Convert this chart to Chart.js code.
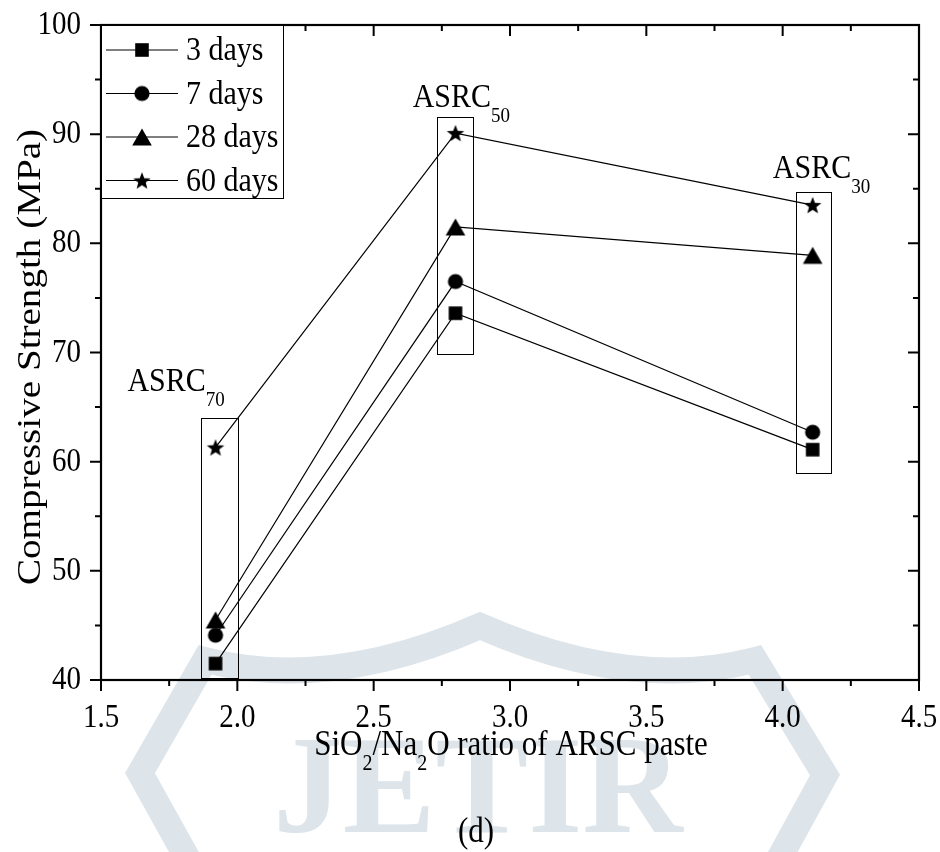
<!DOCTYPE html>
<html lang="en">
<head>
  <meta charset="UTF-8" />
  <title>Compressive Strength vs SiO2/Na2O ratio</title>
  <script src="https://cdn.jsdelivr.net/npm/chart.js"></script>
  <style>
    body {
      margin: 0;
      background: #ffffff;
    }
    canvas {
      display: block;
    }
  </style>
</head>
<body>
  <canvas id="strengthChart" width="940" height="852"></canvas>

  <script>
    // SiO2/Na2O ratio of each paste
    const xRatio = [1.92, 2.80, 4.11];

    // compressive strength (MPa) per curing age
    const strength3d = [41.5, 73.6, 61.1];
    const strength7d = [44.1, 76.5, 62.7];
    const strength28d = [45.5, 81.5, 78.9];
    const strength60d = [61.3, 90.1, 83.5];
    const seriesLabels = ['3 days', '7 days', '28 days', '60 days'];

    // tick labels
    const xTicks = [1.5, 2.0, 2.5, 3.0, 3.5, 4.0, 4.5];
    const yTicks = [40, 50, 60, 70, 80, 90, 100];

    // mix groups: frame around each group and its name
    const groupNames = ['ASRC', 'ASRC', 'ASRC'];
    const groupSubs = ['70', '50', '30'];
    const boxLeft = [1.865, 2.732, 4.049];
    const boxRight = [2.0, 2.864, 4.177];
    const boxTop = [64.0, 91.6, 84.7];
    const boxBottom = [40.2, 69.9, 59.0];
    const labelX = [1.597, 2.643, 3.964];
    const labelY = [66.5, 92.5, 86.0];

    const SERIF = '"Liberation Serif", "Times New Roman", serif';
    const SY = 1.15;              // text is a bit taller than wide
    const WATERMARK = '#dde4ea';

    // filled marker glyphs
    function makeMarker(kind) {
      const c = document.createElement('canvas');
      c.width = 26;
      c.height = 26;
      const g = c.getContext('2d');
      g.fillStyle = '#000';
      g.beginPath();
      if (kind === 'square') {
        g.rect(13 - 6.8, 13 - 6.8, 13.6, 13.6);
      } else if (kind === 'circle') {
        g.arc(13, 13, 7.6, 0, Math.PI * 2);
      } else if (kind === 'triangle') {
        g.moveTo(13, 13 - 8.6);
        g.lineTo(13 + 9.8, 13 + 8.4);
        g.lineTo(13 - 9.8, 13 + 8.4);
      } else {
        for (let i = 0; i < 10; i++) {
          const r = i % 2 === 0 ? 9.2 : 3.9;
          const ang = -Math.PI / 2 + i * Math.PI / 5;
          const px = 13 + r * Math.cos(ang);
          const py = 13.9 + r * Math.sin(ang);
          if (i === 0) g.moveTo(px, py); else g.lineTo(px, py);
        }
      }
      g.closePath();
      g.fill();
      return c;
    }

    const markers = [makeMarker('square'), makeMarker('circle'), makeMarker('triangle'), makeMarker('star')];
    const seriesValues = [strength3d, strength7d, strength28d, strength60d];

    function stretchText(ctx, text, x, y, align, sy) {
      ctx.save();
      ctx.translate(x, y);
      ctx.scale(1, sy);
      ctx.textAlign = align;
      ctx.textBaseline = 'alphabetic';
      ctx.fillText(text, 0, 0);
      ctx.restore();
    }

    // text with subscripts: parts = [[text, isSub], ...]
    function richText(ctx, parts, x, y, size, subSize, subDrop, align) {
      const mainFont = size + 'px ' + SERIF;
      const subFont = subSize + 'px ' + SERIF;
      let total = 0;
      parts.forEach(p => {
        ctx.font = p[1] ? subFont : mainFont;
        total += ctx.measureText(p[0]).width;
      });
      let cx = align === 'center' ? x - total / 2 : x;
      parts.forEach(p => {
        ctx.font = p[1] ? subFont : mainFont;
        stretchText(ctx, p[0], cx, y + (p[1] ? subDrop : 0), 'left', SY);
        cx += ctx.measureText(p[0]).width;
      });
    }

    const originPlugin = {
      id: 'originPlugin',
      beforeDraw(chart) {
        const ctx = chart.ctx;
        ctx.save();
        ctx.fillStyle = '#fff';
        ctx.fillRect(0, 0, chart.width, chart.height);

        // faint emblem in the background
        ctx.strokeStyle = WATERMARK;
        ctx.lineWidth = 26;
        ctx.lineJoin = 'miter';
        ctx.beginPath();
        ctx.moveTo(205, 890);
        ctx.lineTo(140, 773);
        ctx.lineTo(205, 660);
        ctx.quadraticCurveTo(330, 692, 480, 626);
        ctx.quadraticCurveTo(630, 692, 755, 660);
        ctx.lineTo(825, 775);
        ctx.lineTo(762, 890);
        ctx.stroke();

        ctx.fillStyle = WATERMARK;
        ctx.font = 'bold 139px ' + SERIF;
        ctx.textAlign = 'center';
        ctx.textBaseline = 'alphabetic';
        ctx.fillText('JETIR', 478, 832);
        ctx.restore();
      },
      beforeDatasetsDraw(chart) {
        const ctx = chart.ctx;
        const xs = chart.scales.x, ys = chart.scales.y;
        ctx.save();
        ctx.strokeStyle = '#000';
        ctx.lineWidth = 1;
        for (let i = 0; i < boxLeft.length; i++) {
          const l = xs.getPixelForValue(boxLeft[i]);
          const r = xs.getPixelForValue(boxRight[i]);
          const t = ys.getPixelForValue(boxTop[i]);
          const b = ys.getPixelForValue(boxBottom[i]);
          ctx.strokeRect(Math.round(l) + 0.5, Math.round(t) + 0.5, Math.round(r - l), Math.round(b - t));
        }
        ctx.restore();
      },
      afterDraw(chart) {
        const ctx = chart.ctx;
        const a = chart.chartArea;
        const xs = chart.scales.x, ys = chart.scales.y;
        ctx.save();
        ctx.strokeStyle = '#000';
        ctx.fillStyle = '#000';

        // ticks: outward on left/bottom, inward on top/right
        ctx.lineWidth = 2;
        ctx.beginPath();
        xTicks.forEach((v, i) => {
          const px = xs.getPixelForValue(v);
          ctx.moveTo(px, a.bottom); ctx.lineTo(px, a.bottom + 11);
          ctx.moveTo(px, a.top); ctx.lineTo(px, a.top + 11);
          if (i < xTicks.length - 1) {
            const mx = xs.getPixelForValue((v + xTicks[i + 1]) / 2);
            ctx.moveTo(mx, a.bottom); ctx.lineTo(mx, a.bottom + 6);
            ctx.moveTo(mx, a.top); ctx.lineTo(mx, a.top + 6);
          }
        });
        yTicks.forEach((v, i) => {
          const py = ys.getPixelForValue(v);
          ctx.moveTo(a.left, py); ctx.lineTo(a.left - 11, py);
          ctx.moveTo(a.right, py); ctx.lineTo(a.right - 11, py);
          if (i < yTicks.length - 1) {
            const my = ys.getPixelForValue((v + yTicks[i + 1]) / 2);
            ctx.moveTo(a.left, my); ctx.lineTo(a.left - 6, my);
            ctx.moveTo(a.right, my); ctx.lineTo(a.right - 6, my);
          }
        });
        ctx.stroke();
        ctx.lineWidth = 2.2;
        ctx.strokeRect(a.left, a.top, a.right - a.left, a.bottom - a.top);

        // tick labels
        ctx.font = '29px ' + SERIF;
        xTicks.forEach(v => {
          stretchText(ctx, v.toFixed(1), xs.getPixelForValue(v), a.bottom + 47, 'center', SY);
        });
        yTicks.forEach(v => {
          stretchText(ctx, String(v), a.left - 20, ys.getPixelForValue(v) + 9, 'right', SY);
        });

        // axis titles
        richText(ctx, [['SiO', false], ['2', true], ['/Na', false], ['2', true], ['O ratio of ARSC paste', false]],
          511, 755, 31, 20, 15, 'center');
        ctx.font = '31px ' + SERIF;
        stretchText(ctx, '(d)', 476, 842, 'center', SY);

        ctx.save();
        ctx.translate(40, 357);
        ctx.rotate(-Math.PI / 2);
        ctx.scale(SY, 1);
        ctx.font = '34px ' + SERIF;
        ctx.textAlign = 'center';
        ctx.textBaseline = 'alphabetic';
        ctx.fillText('Compressive Strength (MPa)', 0, 0);
        ctx.restore();

        // group names
        for (let i = 0; i < groupNames.length; i++) {
          richText(ctx, [[groupNames[i], false], [groupSubs[i], true]],
            xs.getPixelForValue(labelX[i]), ys.getPixelForValue(labelY[i]), 30, 19, 15, 'left');
        }

        // legend
        const lx = a.left, ly = a.top, lw = 182, lh = 173;
        ctx.fillStyle = '#fff';
        ctx.fillRect(lx, ly, lw, lh);
        ctx.lineWidth = 1;
        ctx.strokeRect(lx + 0.5, ly + 0.5, lw, lh);
        ctx.fillStyle = '#000';
        ctx.font = '30px ' + SERIF;
        seriesLabels.forEach((name, i) => {
          const ry = ly + 25 + i * 43.5;
          ctx.beginPath();
          ctx.moveTo(lx + 5, ry);
          ctx.lineTo(lx + 77, ry);
          ctx.stroke();
          const m = markers[i];
          ctx.drawImage(m, lx + 41 - m.width / 2, ry - m.height / 2);
          stretchText(ctx, name, lx + 85, ry + 10, 'left', SY);
        });
        ctx.restore();
      }
    };

    const datasets = seriesLabels.map((name, i) => ({
      label: name,
      data: xRatio.map((x, j) => ({ x: x, y: seriesValues[i][j] })),
      showLine: true,
      borderColor: '#000',
      backgroundColor: '#000',
      borderWidth: 1.2,
      pointStyle: markers[i],
      pointRadius: 9,
      tension: 0
    }));

    new Chart(document.getElementById('strengthChart').getContext('2d'), {
      type: 'scatter',
      data: { datasets: datasets },
      options: {
        responsive: false,
        animation: false,
        devicePixelRatio: 1,
        layout: { padding: { top: 25, right: 21, left: 0, bottom: 0 } },
        plugins: {
          legend: { display: false },
          tooltip: { enabled: false }
        },
        scales: {
          x: {
            type: 'linear',
            min: 1.5,
            max: 4.5,
            ticks: { display: false },
            grid: { display: false },
            border: { display: false },
            afterFit: s => { s.height = 172; }
          },
          y: {
            type: 'linear',
            min: 40,
            max: 100,
            ticks: { display: false },
            grid: { display: false },
            border: { display: false },
            afterFit: s => { s.width = 101; }
          }
        }
      },
      plugins: [originPlugin]
    });
  </script>
</body>
</html>
